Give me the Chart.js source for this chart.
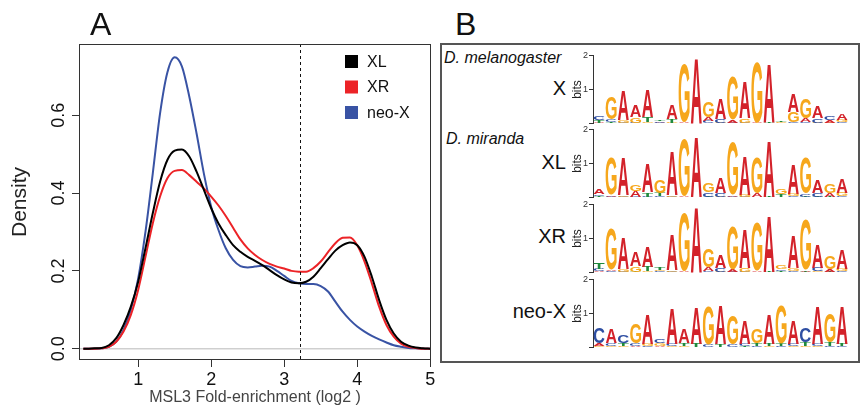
<!DOCTYPE html>
<html>
<head>
<meta charset="utf-8">
<script src="https://cdn.jsdelivr.net/npm/chart.js"></script>
<style>
  body { margin: 0; background: #fff; }
  #page { position: relative; width: 867px; height: 407px; overflow: hidden; font-family: 'Liberation Sans', Arial, Helvetica, sans-serif; }
  #page canvas, #page div { position: absolute; }
  .panel { font-size: 32px; line-height: 1; color: #111; }
  .species { font-size: 16px; font-style: italic; line-height: 1; color: #111; }
  .logoname { font-size: 20px; line-height: 1; color: #111; text-align: right; }
</style>
</head>
<body>
<div id="page">
  <canvas id="density" width="440" height="407" style="left:0;top:0"></canvas>
  <div class="panel" style="left:90px;top:8px">A</div>
  <div class="panel" style="left:455px;top:8px">B</div>
  <div style="left:440px;top:43px;width:416px;height:316px;border:2px solid #555"></div>
  <div class="species" style="left:444px;top:50px">D. melanogaster</div>
  <div class="species" style="left:446px;top:131px">D. miranda</div>
  <div class="logoname" style="right:301px;top:78px">X</div>
  <div class="logoname" style="right:301px;top:152px">XL</div>
  <div class="logoname" style="right:301px;top:226px">XR</div>
  <div class="logoname" style="right:301px;top:301px">neo-X</div>
  <canvas id="logoX" width="300" height="81" style="left:560px;top:49px"></canvas>
  <canvas id="logoXL" width="300" height="81" style="left:560px;top:123px"></canvas>
  <canvas id="logoXR" width="300" height="81" style="left:560px;top:198px"></canvas>
  <canvas id="logoNeoX" width="300" height="81" style="left:560px;top:273px"></canvas>
</div>
<script>
Chart.defaults.font.family = "'Liberation Sans', Arial, Helvetica, sans-serif"

// ---- panel A: MSL3 enrichment densities ----
var foldEnrichment = [0.25, 0.3, 0.4, 0.5, 0.6, 0.7, 0.8, 0.9, 1.0, 1.1, 1.2, 1.3, 1.4, 1.5, 1.6, 1.7, 1.8, 1.9,
  2.0, 2.1, 2.2, 2.3, 2.4, 2.5, 2.6, 2.7, 2.8, 2.9, 3.0, 3.1, 3.2, 3.3, 3.4, 3.5, 3.6, 3.7, 3.8, 3.9,
  4.0, 4.1, 4.2, 4.3, 4.4, 4.5, 4.6, 4.7, 4.8, 4.9, 5.0]

var densityXL = [0, 0, 0.001, 0.002, 0.009, 0.027, 0.061, 0.108, 0.172, 0.258, 0.348, 0.429, 0.485, 0.509, 0.512, 0.494, 0.455, 0.408,
  0.361, 0.322, 0.292, 0.266, 0.249, 0.236, 0.226, 0.215, 0.202, 0.189, 0.178, 0.170, 0.168, 0.172, 0.185, 0.207, 0.230, 0.252, 0.266, 0.273,
  0.266, 0.236, 0.185, 0.125, 0.074, 0.039, 0.018, 0.008, 0.003, 0.001, 0]

var densityXR = [0, 0, 0, 0.001, 0.005, 0.018, 0.044, 0.087, 0.151, 0.236, 0.322, 0.391, 0.438, 0.457, 0.459, 0.446, 0.429, 0.412,
  0.391, 0.368, 0.341, 0.311, 0.281, 0.258, 0.241, 0.228, 0.218, 0.211, 0.206, 0.200, 0.198, 0.198, 0.207, 0.224, 0.248, 0.271, 0.285, 0.286,
  0.266, 0.224, 0.168, 0.108, 0.061, 0.031, 0.013, 0.005, 0.002, 0, 0]

var densityNeoX = [0, 0, 0, 0.001, 0.005, 0.018, 0.048, 0.100, 0.180, 0.300, 0.450, 0.605, 0.710, 0.749, 0.725, 0.648, 0.553, 0.450,
  0.365, 0.305, 0.258, 0.228, 0.212, 0.209, 0.211, 0.213, 0.211, 0.200, 0.187, 0.174, 0.168, 0.166, 0.166, 0.161, 0.147, 0.121, 0.095, 0.074,
  0.057, 0.044, 0.033, 0.024, 0.016, 0.009, 0.005, 0.002, 0.001, 0, 0]

var seriesNames = ['XL', 'XR', 'neo-X']
var seriesColors = ['#000000', '#ec2327', '#3953a4']
var xTicks = [1, 2, 3, 4, 5]
var yTicks = [0, 0.2, 0.4, 0.6]
var cutoff = 3.21

function toPoints(ys) {
  return ys.map(function (y, i) { return { x: foldEnrichment[i], y: y } })
}

var panelAExtras = {
  id: 'panelAExtras',
  beforeDatasetsDraw: function (chart) {
    var ctx = chart.ctx, a = chart.chartArea
    var y0 = chart.scales.y.getPixelForValue(0)
    ctx.save()
    ctx.strokeStyle = '#cfcfcf'
    ctx.lineWidth = 1.5
    ctx.beginPath()
    ctx.moveTo(a.left, y0)
    ctx.lineTo(a.right, y0)
    ctx.stroke()
    ctx.restore()
  },
  afterDraw: function (chart) {
    var ctx = chart.ctx, a = chart.chartArea
    ctx.save()
    // cutoff line
    var xc = Math.round(chart.scales.x.getPixelForValue(cutoff)) + 0.5
    ctx.strokeStyle = '#111'
    ctx.lineWidth = 1
    ctx.setLineDash([3, 3])
    ctx.beginPath()
    ctx.moveTo(xc, a.top)
    ctx.lineTo(xc, a.bottom)
    ctx.stroke()
    ctx.setLineDash([])
    // frame
    ctx.strokeStyle = '#333'
    ctx.strokeRect(a.left + 0.5, a.top + 0.5, a.right - a.left - 1, a.bottom - a.top - 1)
    // rotated y labels, R style
    ctx.fillStyle = '#111'
    ctx.font = "18px 'Liberation Sans', Arial, sans-serif"
    ctx.textAlign = 'center'
    ctx.textBaseline = 'alphabetic'
    yTicks.forEach(function (v) {
      var py = chart.scales.y.getPixelForValue(v)
      ctx.save()
      ctx.translate(a.left - 15, py)
      ctx.rotate(-Math.PI / 2)
      ctx.fillText(v.toFixed(1), 0, 0)
      ctx.restore()
    })
    // legend
    ctx.font = "16px 'Liberation Sans', Arial, sans-serif"
    ctx.textAlign = 'left'
    ctx.textBaseline = 'middle'
    chart.data.datasets.forEach(function (ds, i) {
      var cy = a.top + 17.5 + i * 25.5
      ctx.fillStyle = ds.borderColor
      ctx.fillRect(a.right - 86, cy - 6.5, 13, 13)
      ctx.fillStyle = '#111'
      ctx.fillText(ds.label, a.right - 64, cy + 1)
    })
    ctx.restore()
  }
}

var densities = [densityXL, densityXR, densityNeoX]

new Chart(document.getElementById('density'), {
  type: 'line',
  data: {
    datasets: densities.map(function (d, i) {
      return { label: seriesNames[i], data: toPoints(d), borderColor: seriesColors[i], fill: false }
    })
  },
  options: {
    responsive: false,
    animation: false,
    layout: { padding: { top: 44, right: 9, left: 0, bottom: 0 } },
    elements: {
      point: { radius: 0 },
      line: { borderWidth: 2, cubicInterpolationMode: 'monotone' }
    },
    plugins: { legend: { display: false }, tooltip: { enabled: false } },
    scales: {
      x: {
        type: 'linear',
        min: 0.19,
        max: 5.01,
        afterBuildTicks: function (s) { s.ticks = xTicks.map(function (v) { return { value: v } }) },
        afterFit: function (s) { s.height = 47 },
        ticks: { font: { size: 18 }, color: '#111', padding: 2, maxRotation: 0 },
        grid: { drawOnChartArea: false, tickLength: 7, color: '#333' },
        border: { display: false },
        title: { display: true, text: 'MSL3 Fold-enrichment (log2 )', font: { size: 16 }, color: '#444', padding: { top: 0, bottom: 0 } }
      },
      y: {
        min: -0.029,
        max: 0.783,
        afterBuildTicks: function (s) { s.ticks = yTicks.map(function (v) { return { value: v } }) },
        afterFit: function (s) { s.width = 79 },
        ticks: { display: false },
        grid: { drawOnChartArea: false, tickLength: 7, color: '#333' },
        border: { display: false },
        title: { display: true, text: 'Density', font: { size: 21 }, color: '#222', padding: { top: 8, bottom: 0 } }
      }
    }
  },
  plugins: [panelAExtras]
})

// ---- panel B: sequence logos, each column listed bottom to top as [base, bits] ----
var positions = [1, 2, 3, 4, 5, 6, 7, 8, 9, 10, 11, 12, 13, 14, 15, 16, 17, 18, 19, 20, 21]
var bitTicks = [0, 1, 2]

var logoMelX = [
  [['A', 0.03], ['T', 0.07], ['C', 0.1]],
  [['T', 0.04], ['C', 0.08], ['G', 0.67]],
  [['C', 0.03], ['G', 0.08], ['A', 0.89]],
  [['C', 0.03], ['G', 0.15], ['A', 0.32]],
  [['G', 0.04], ['T', 0.16], ['A', 0.78]],
  [['A', 0.03], ['C', 0.04], ['T', 0.05]],
  [['G', 0.03], ['T', 0.1], ['A', 0.42]],
  [['A', 0.05], ['G', 1.7]],
  [['G', 0.02], ['A', 1.91]],
  [['C', 0.07], ['A', 0.12], ['G', 0.45]],
  [['G', 0.03], ['C', 0.1], ['A', 0.61]],
  [['C', 0.03], ['A', 0.08], ['G', 1.26]],
  [['C', 0.03], ['G', 0.12], ['A', 1.07]],
  [['A', 0.03], ['G', 1.77]],
  [['T', 0.03], ['A', 1.73]],
  [['C', 0.02], ['G', 0.02], ['T', 0.03]],
  [['C', 0.03], ['G', 0.32], ['A', 0.54]],
  [['T', 0.02], ['C', 0.04], ['A', 0.1], ['G', 0.56]],
  [['G', 0.03], ['C', 0.12], ['A', 0.35]],
  [['G', 0.03], ['A', 0.08], ['C', 0.12]],
  [['C', 0.05], ['G', 0.07], ['A', 0.2]]
]

var logoMirXL = [
  [['T', 0.05], ['C', 0.05], ['A', 0.15]],
  [['C', 0.03], ['A', 0.05], ['G', 1.09]],
  [['C', 0.03], ['G', 0.04], ['A', 1.1]],
  [['C', 0.03], ['A', 0.17], ['G', 0.2]],
  [['C', 0.03], ['T', 0.12], ['A', 0.85]],
  [['C', 0.04], ['T', 0.1], ['G', 0.4]],
  [['C', 0.03], ['G', 0.05], ['A', 1.31]],
  [['A', 0.04], ['G', 1.64]],
  [['G', 0.02], ['A', 1.76]],
  [['T', 0.03], ['C', 0.12], ['G', 0.27]],
  [['G', 0.03], ['C', 0.1], ['A', 0.46]],
  [['C', 0.03], ['A', 0.05], ['G', 1.53]],
  [['C', 0.03], ['G', 0.06], ['A', 1.13]],
  [['T', 0.02], ['A', 0.1], ['G', 1.05]],
  [['T', 0.03], ['A', 1.63]],
  [['T', 0.1], ['G', 0.15]],
  [['C', 0.04], ['G', 0.08], ['A', 0.86]],
  [['T', 0.03], ['C', 0.08], ['G', 1.02]],
  [['T', 0.03], ['C', 0.1], ['A', 0.37]],
  [['T', 0.03], ['A', 0.1], ['G', 0.27]],
  [['C', 0.04], ['G', 0.1], ['A', 0.4]]
]

var logoMirXR = [
  [['A', 0.05], ['C', 0.07], ['T', 0.2]],
  [['C', 0.04], ['A', 0.05], ['G', 1.2]],
  [['C', 0.03], ['G', 0.07], ['A', 0.9]],
  [['T', 0.03], ['G', 0.15], ['A', 0.41]],
  [['G', 0.04], ['T', 0.13], ['A', 0.62]],
  [['C', 0.04], ['G', 0.05], ['T', 0.06]],
  [['C', 0.03], ['G', 0.04], ['A', 1.01]],
  [['A', 0.04], ['G', 1.7]],
  [['G', 0.02], ['A', 1.91]],
  [['C', 0.04], ['A', 0.12], ['G', 0.53]],
  [['G', 0.03], ['C', 0.1], ['A', 0.37]],
  [['C', 0.03], ['A', 0.06], ['G', 1.28]],
  [['C', 0.03], ['G', 0.1], ['A', 1.14]],
  [['A', 0.05], ['G', 1.42]],
  [['T', 0.03], ['A', 1.63]],
  [['T', 0.05], ['C', 0.05], ['G', 0.1]],
  [['C', 0.05], ['G', 0.08], ['A', 0.95]],
  [['T', 0.03], ['A', 0.05], ['G', 1.47]],
  [['G', 0.04], ['C', 0.1], ['A', 0.69]],
  [['T', 0.03], ['A', 0.07], ['G', 0.38]],
  [['C', 0.04], ['G', 0.08], ['A', 0.57]]
]

var logoMirNeoX = [
  [['G', 0.04], ['A', 0.08], ['C', 0.47]],
  [['G', 0.05], ['C', 0.08], ['A', 0.41]],
  [['G', 0.05], ['T', 0.08], ['C', 0.22]],
  [['A', 0.04], ['C', 0.08], ['G', 0.57]],
  [['C', 0.04], ['G', 0.08], ['A', 0.86]],
  [['A', 0.05], ['G', 0.08], ['C', 0.12]],
  [['G', 0.04], ['C', 0.08], ['A', 1.01]],
  [['G', 0.05], ['T', 0.08], ['A', 0.41]],
  [['T', 0.12], ['A', 1.05]],
  [['C', 0.1], ['G', 1.12]],
  [['T', 0.1], ['A', 1.15]],
  [['C', 0.08], ['G', 0.85]],
  [['T', 0.05], ['C', 0.06], ['A', 0.68]],
  [['C', 0.05], ['T', 0.07], ['G', 0.42]],
  [['G', 0.04], ['T', 0.08], ['A', 0.86]],
  [['C', 0.04], ['T', 0.07], ['G', 1.11]],
  [['G', 0.04], ['C', 0.07], ['A', 0.68]],
  [['G', 0.05], ['T', 0.1], ['C', 0.44]],
  [['G', 0.04], ['C', 0.08], ['A', 1.1]],
  [['C', 0.04], ['T', 0.1], ['G', 0.84]],
  [['C', 0.04], ['T', 0.08], ['A', 1.1]]
]

var baseColors = { A: '#d3222a', C: '#2e4ea2', G: '#f6a71c', T: '#1f8a3d' }

function drawLetter(ctx, letter, left, top, w, h) {
  ctx.save()
  ctx.font = "bold 100px 'Liberation Sans', Arial, sans-serif"
  ctx.textAlign = 'left'
  ctx.textBaseline = 'alphabetic'
  var m = ctx.measureText(letter)
  var gw = m.actualBoundingBoxLeft + m.actualBoundingBoxRight
  var gh = m.actualBoundingBoxAscent + m.actualBoundingBoxDescent
  ctx.translate(left, top)
  ctx.scale(w / gw, h / gh)
  ctx.fillStyle = baseColors[letter]
  ctx.fillText(letter, m.actualBoundingBoxLeft, m.actualBoundingBoxAscent)
  ctx.restore()
}

// paint each stacked bar as its base letter
var letterPlugin = {
  id: 'letters',
  afterDatasetsDraw: function (chart) {
    chart.data.datasets.forEach(function (ds, i) {
      chart.getDatasetMeta(i).data.forEach(function (bar, j) {
        var p = bar.getProps(['x', 'y', 'base', 'width'], true)
        var h = p.base - p.y
        if (!ds.letters[j] || h < 0.4) return
        drawLetter(chart.ctx, ds.letters[j], p.x - p.width / 2, p.y, p.width, h)
      })
    })
  }
}

function makeLogo(id, cols) {
  var datasets = []
  for (var k = 0; k < 4; k++) {
    datasets.push({
      data: cols.map(function (c) { return c[k] ? c[k][1] : 0 }),
      letters: cols.map(function (c) { return c[k] ? c[k][0] : '' }),
      backgroundColor: 'rgba(0,0,0,0)',
      borderWidth: 0,
      barPercentage: 1,
      categoryPercentage: 0.9
    })
  }
  return new Chart(document.getElementById(id), {
    type: 'bar',
    data: { labels: positions, datasets: datasets },
    options: {
      responsive: false,
      animation: false,
      layout: { padding: { top: 6, bottom: 6, left: 0, right: 12 } },
      plugins: { legend: { display: false }, tooltip: { enabled: false } },
      scales: {
        x: { display: false, stacked: true },
        y: {
          stacked: true,
          min: 0,
          max: 2,
          afterBuildTicks: function (s) { s.ticks = bitTicks.map(function (v) { return { value: v } }) },
          afterFit: function (s) { s.width = 33 },
          ticks: { font: { size: 9 }, color: '#333', padding: 1, callback: function (v) { return v === 0 ? '' : v } },
          grid: { drawOnChartArea: false, tickLength: 4, color: '#333' },
          border: { color: '#333' },
          title: { display: true, text: 'bits', font: { size: 12 }, color: '#222', padding: { top: 10, bottom: 0 } }
        }
      }
    },
    plugins: [letterPlugin]
  })
}

makeLogo('logoX', logoMelX)
makeLogo('logoXL', logoMirXL)
makeLogo('logoXR', logoMirXR)
makeLogo('logoNeoX', logoMirNeoX)
</script>
</body>
</html>
